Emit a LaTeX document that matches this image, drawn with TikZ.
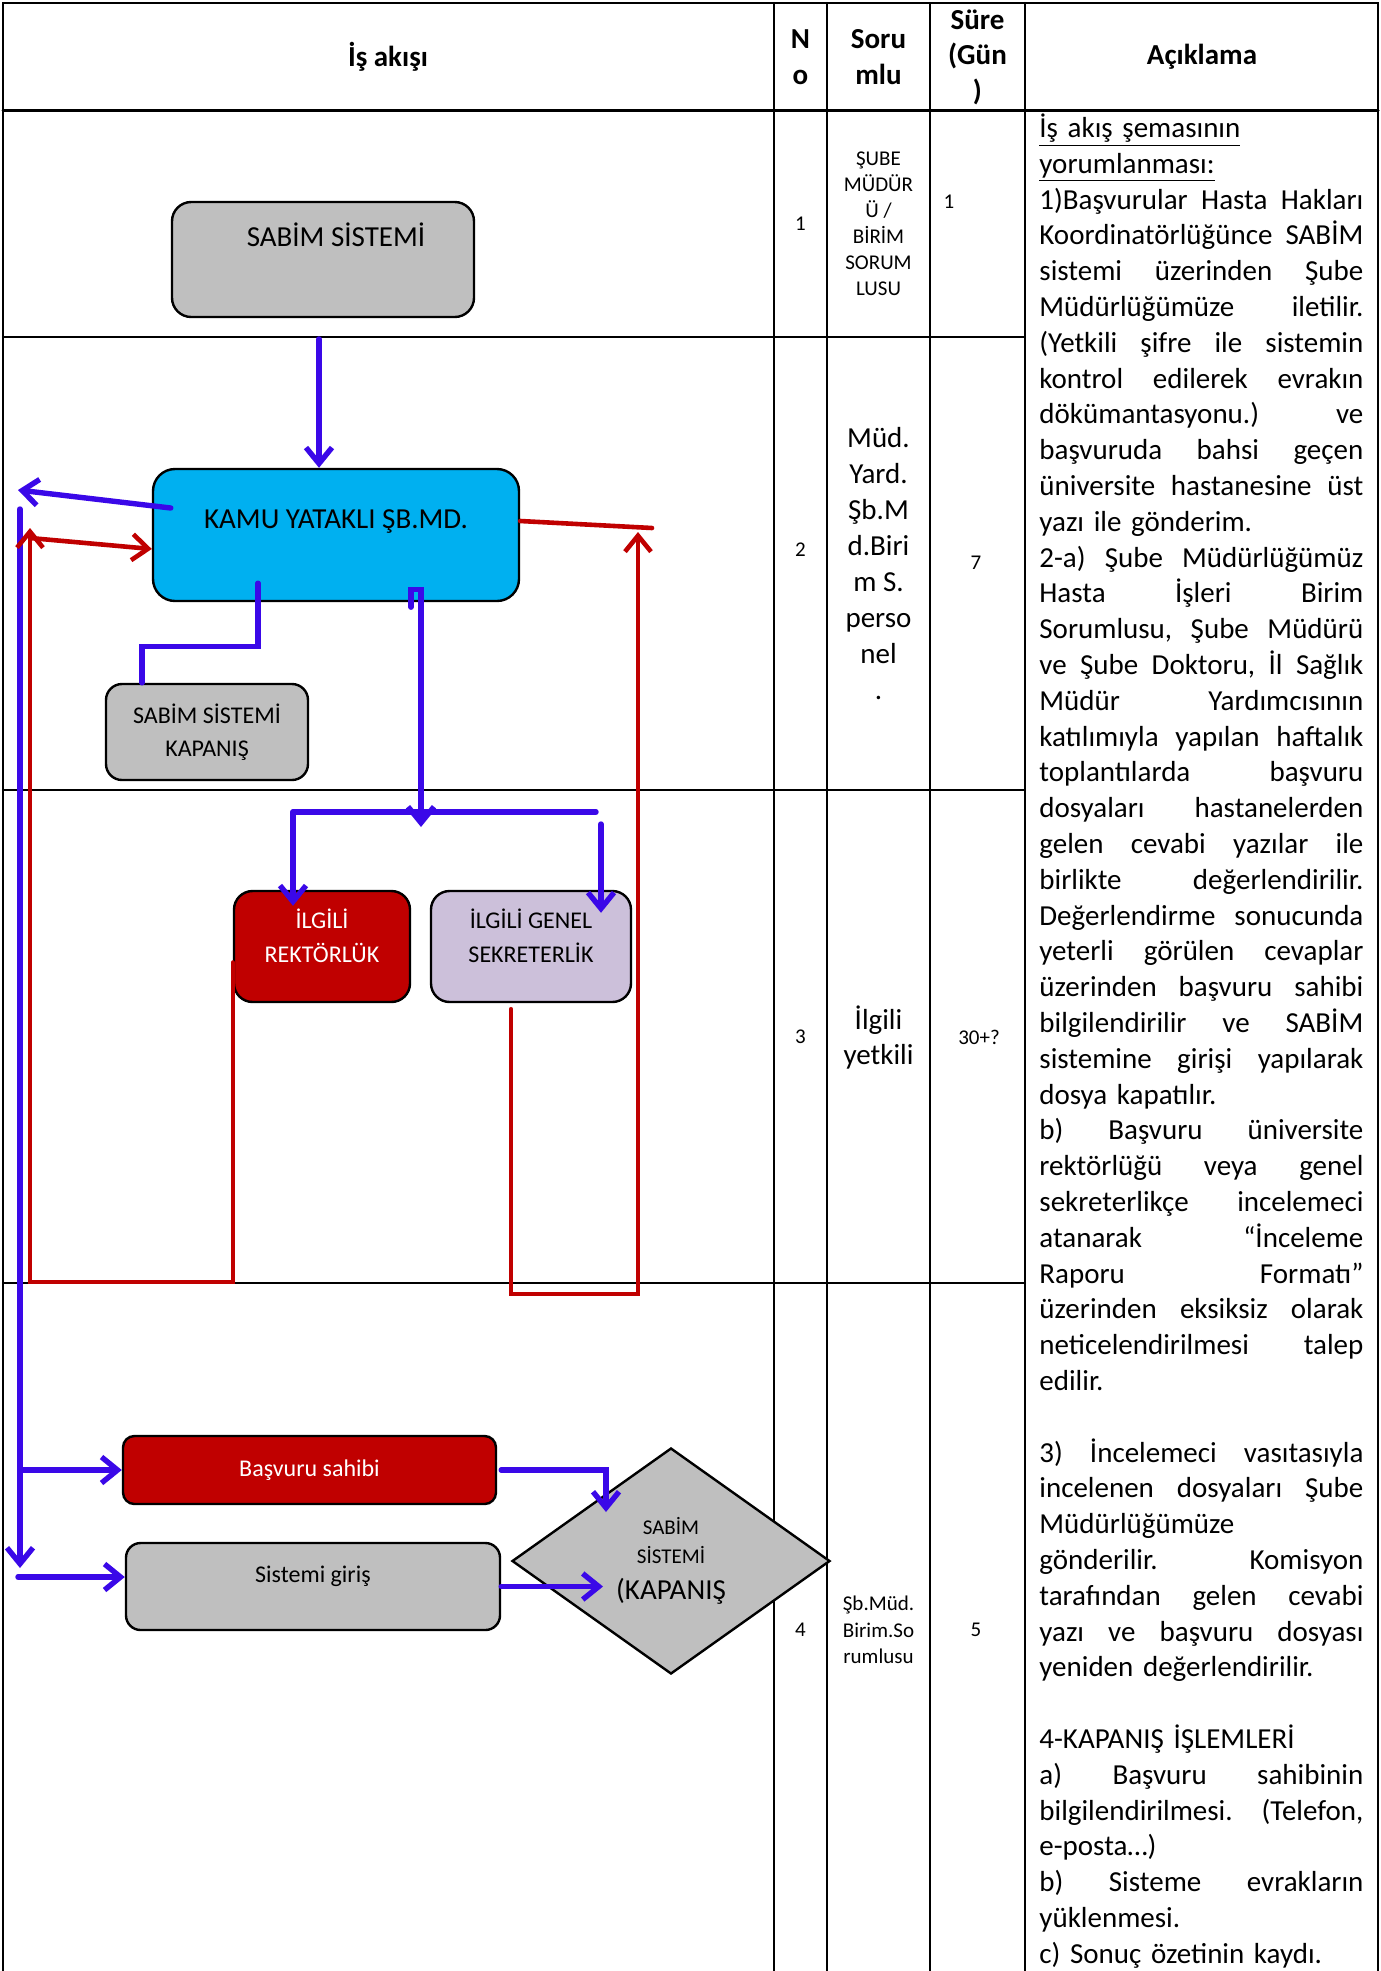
\documentclass[tikz,border=0pt]{standalone}
\usepackage{fontspec}
\setmainfont{Carlito}
\usetikzlibrary{arrows.meta, shapes.geometric}

\definecolor{flowblue}{RGB}{58,8,232}
\definecolor{flowred}{RGB}{192,0,0}
\definecolor{boxgray}{RGB}{191,191,191}
\definecolor{boxcyan}{RGB}{0,176,240}
\definecolor{boxlilac}{RGB}{204,192,218}

\newcommand{\jl}[1]{\makebox[162pt][s]{\frenchspacing\spaceskip=\fontdimen2\font plus 1fil\relax\xspaceskip=\spaceskip #1}}
\newcommand{\dip}[1]{\rule[-#1]{0pt}{0pt}}

\begin{document}
\begin{tikzpicture}[
            x=0.5pt, y=-0.5pt,
            line cap=round,
            grid line/.style={line width=1.2pt},
            head label/.style={font=\fontsize{14.5}{17.75}\selectfont\bfseries, align=center, inner sep=0pt},
            small cell/.style={font=\fontsize{10.5}{13}\selectfont, align=center, inner sep=0pt},
            big cell/.style={font=\fontsize{14.5}{18}\selectfont, align=center, inner sep=0pt},
            flow box/.style={draw=black, line width=1.2pt, inner sep=0pt, align=center},
            gray box/.style={flow box, fill=boxgray},
            cyan box/.style={flow box, fill=boxcyan},
            red box/.style={flow box, fill=flowred, text=white},
            lilac box/.style={flow box, fill=boxlilac},
            decision/.style={diamond, draw=black, line width=1.2pt, fill=boxgray, inner sep=0pt, align=center},
            blue line/.style={draw=flowblue, line width=2.7pt},
            blue arrow/.style={blue line, -{Straight Barb[length=8pt, width=13pt]}},
            red line/.style={draw=flowred, line width=2.3pt},
            red arrow/.style={red line, -{Straight Barb[length=8pt, width=13pt]}},
        ]
        \useasboundingbox (0,0) rectangle (1381,1971);

        \draw[grid line] (3,1971) -- (3,3) -- (1378,3) -- (1378,1971);
        \draw[line width=1.5pt] (3,110) -- (1378,110);
        \draw[grid line] (3,337) -- (1025,337);
        \draw[grid line] (3,790) -- (1025,790);
        \draw[grid line] (3,1283) -- (1025,1283);
        \draw[grid line] (774,3) -- (774,1971);
        \draw[grid line] (827,3) -- (827,1971);
        \draw[grid line] (930,3) -- (930,1971);
        \draw[grid line] (1025,3) -- (1025,1971);

        \node[head label] (hflow) at (388,57) {İş akışı};
        \node[head label, font=\fontsize{14.5}{18}\selectfont\bfseries] (hno) at (800.5,57) {N\\o};
        \node[head label, font=\fontsize{14.5}{18}\selectfont\bfseries] (hsorumlu) at (878.5,57) {Soru\\mlu};
        \node[head label] (hsure) at (977.5,57) {Süre\\(Gün\\)};
        \node[head label] (haciklama) at (1202,57) {Açıklama};

        \node[small cell] (no1) at (800.5,224) {1};
        \node[small cell] (sor1) at (878.5,224) {ŞUBE\\MÜDÜR\\Ü /\\BİRİM\\SORUM\\LUSU};
        \node[small cell] (sure1) at (949,202) {1};
        \node[small cell] (no2) at (800.5,550) {2};
        \node[big cell] (sor2) at (878.5,564) {Müd.\\Yard.\\Şb.M\\d.Biri\\m S.\\perso\\nel\\.};
        \node[small cell] (sure2) at (976,563) {7};
        \node[small cell] (no3) at (800.5,1037) {3};
        \node[big cell, font=\fontsize{14.5}{17.5}\selectfont] (sor3) at (878.5,1037) {İlgili\\yetkili};
        \node[small cell] (sure3) at (979,1037) {30+?};
        \node[small cell] (no4) at (800.5,1630) {4};
        \node[small cell, font=\fontsize{10.5}{13.2}\selectfont] (sor4) at (878.5,1630) {Şb.Müd.\\Birim.So\\rumlusu};
        \node[small cell] (sure4) at (976,1630) {5};

        \node[anchor=north west, inner sep=0pt, text width=162pt, align=left,
            font=\fontsize{14.5}{17.9}\selectfont] (aciklama) at (1039,112) {%
            \strut\underline{İş akış şemasının}\\
            \underline{yorumlanması:}\\
            \jl{1)Başvurular Hasta Hakları}\\
            \jl{Koordinatörlüğünce SABİM}\\
            \jl{sistemi üzerinden Şube}\\
            \jl{Müdürlüğümüze iletilir.}\\
            \jl{(Yetkili şifre ile sistemin}\\
            \jl{kontrol edilerek evrakın}\\
            \jl{dökümantasyonu.) ve}\\
            \jl{başvuruda bahsi geçen}\\
            \jl{üniversite hastanesine üst}\\
            yazı ile gönderim.\\
            \jl{2-a) Şube Müdürlüğümüz}\\
            \jl{Hasta İşleri Birim}\\
            \jl{Sorumlusu, Şube Müdürü}\\
            \jl{ve Şube Doktoru, İl Sağlık}\\
            \jl{Müdür Yardımcısının}\\
            \jl{katılımıyla yapılan haftalık}\\
            \jl{toplantılarda başvuru}\\
            \jl{dosyaları hastanelerden}\\
            \jl{gelen cevabi yazılar ile}\\
            \jl{birlikte değerlendirilir.}\\
            \jl{Değerlendirme sonucunda}\\
            \jl{yeterli görülen cevaplar}\\
            \jl{üzerinden başvuru sahibi}\\
            \jl{bilgilendirilir ve SABİM}\\
            \jl{sistemine girişi yapılarak}\\
            dosya kapatılır.\\
            \jl{b) Başvuru üniversite}\\
            \jl{rektörlüğü veya genel}\\
            \jl{sekreterlikçe incelemeci}\\
            \jl{atanarak “İnceleme}\\
            \jl{Raporu Formatı”}\\
            \jl{üzerinden eksiksiz olarak}\\
            \jl{neticelendirilmesi talep}\\
            edilir.\\
            \mbox{}\\
            \jl{3) İncelemeci vasıtasıyla}\\
            \jl{incelenen dosyaları Şube}\\
            Müdürlüğümüze\\
            \jl{gönderilir. Komisyon}\\
            \jl{tarafından gelen cevabi}\\
            \jl{yazı ve başvuru dosyası}\\
            yeniden değerlendirilir.\\
            \mbox{}\\
            4-KAPANIŞ İŞLEMLERİ\\
            \jl{a) Başvuru sahibinin}\\
            \jl{bilgilendirilmesi. (Telefon,}\\
            e-posta…)\\
            \jl{b) Sisteme evrakların}\\
            yüklenmesi.\\
            c) Sonuç özetinin kaydı.};

        \node[gray box, rounded corners=9.6pt, minimum width=151pt, minimum height=57.5pt,
            font=\fontsize{14.5}{17.5}\selectfont, text height=9.3pt, text depth=22.5pt] (sabim) at (323,259.5) {\hspace*{13pt}SABİM SİSTEMİ};
        \node[cyan box, rounded corners=11pt, minimum width=183pt, minimum height=66pt,
            font=\fontsize{14.5}{17.5}\selectfont, text height=9.3pt, text depth=16pt] (kamu) at (336,535) {KAMU YATAKLI ŞB.MD.};
        \node[gray box, rounded corners=8pt, minimum width=101pt, minimum height=48pt,
            font=\fontsize{12}{16.5}\selectfont] (kapanis) at (207,732) {SABİM SİSTEMİ\\KAPANIŞ};
        \node[red box, rounded corners=9.3pt, minimum width=88pt, minimum height=55.5pt,
            font=\fontsize{12}{17}\selectfont] (rektorluk) at (322,946.5) {İLGİLİ\\REKTÖRLÜK\dip{10.4pt}};
        \node[lilac box, rounded corners=9.3pt, minimum width=100pt, minimum height=55.5pt,
            font=\fontsize{12}{17}\selectfont] (sekreterlik) at (531,946.5) {İLGİLİ GENEL\\SEKRETERLİK\dip{10.4pt}};
        \node[red box, rounded corners=5.7pt, minimum width=186.5pt, minimum height=34pt,
            font=\fontsize{12}{15}\selectfont] (basvuru) at (309.5,1470) {Başvuru sahibi};
        \node[gray box, rounded corners=7.3pt, minimum width=187pt, minimum height=43.5pt,
            font=\fontsize{12}{15}\selectfont, text height=7.7pt, text depth=11.5pt] (giris) at (313,1586.5) {Sistemi giriş};
        \node[decision, minimum width=159pt, minimum height=113pt, font=\fontsize{10.5}{14.5}\selectfont] (karar) at (671,1561)
            {SABİM\\SİSTEMİ\\[3.5pt]{\fontsize{14.5}{17.5}\selectfont(KAPANIŞ}};

        \coordinate (sabimdown) at (319,339);
        \coordinate (kout) at (18,490);
        \coordinate (vtop) at (20,509);
        \coordinate (vbot) at (20,1568);
        \coordinate (gin) at (18,1577);
        \coordinate (rin) at (30,538);
        \coordinate (rl1) at (30,1282);
        \coordinate (rl2) at (30,528);
        \coordinate (rr1) at (638,1294);
        \coordinate (rr2) at (638,532);
        \coordinate (rr3) at (652,528);
        \coordinate (split) at (421,827);
        \coordinate (barL) at (293,812);
        \coordinate (barR) at (596,812);
        \coordinate (drop) at (601,824);
        \coordinate (dtop) at (606,1512);
        \coordinate (dleft) at (603,1590);

        \draw[blue arrow] (sabimdown) -- (sabimdown |- kamu.north);
        \draw[blue arrow] ([xshift=9.5pt, yshift=13.5pt]kamu.west) -- (kout);
        \draw[blue arrow] (vtop) -- (vbot);
        \draw[blue arrow] (vtop |- basvuru.west) -- (basvuru.west);
        \draw[blue arrow] (gin) -- (gin -| giris.west);

        \draw[red arrow] ([yshift=-8pt]rektorluk.west) |- (rl1) -- (rl2);
        \draw[red arrow] (rin) -- ([yshift=-7pt]kamu.west);
        \draw[red arrow] ([xshift=-10pt, yshift=-3pt]sekreterlik.south) |- (rr1) -- (rr2);
        \draw[red line] ([yshift=7pt]kamu.east) -- (rr3);

        \draw[blue line] ([xshift=-39pt, yshift=9.5pt]kamu.south) -- ++(0,63) -| ([xshift=-32.5pt]kapanis.north);
        \draw[blue arrow] ([xshift=37.5pt, yshift=-2.5pt]kamu.south) -- ++(0,-18) -- ++(10,0) -- (split);
        \draw[blue line] (barL) -- (barR);
        \draw[blue arrow] (barL) -- ([yshift=-8pt]barL |- rektorluk.north);
        \draw[blue arrow] (drop) -- ([yshift=-11.5pt]drop |- sekreterlik.north);

        \draw[blue arrow] ([xshift=2pt]basvuru.east) -| (dtop);
        \draw[blue arrow] (giris.east) -- (dleft |- giris.east);
        \end{tikzpicture}
\end{document}
